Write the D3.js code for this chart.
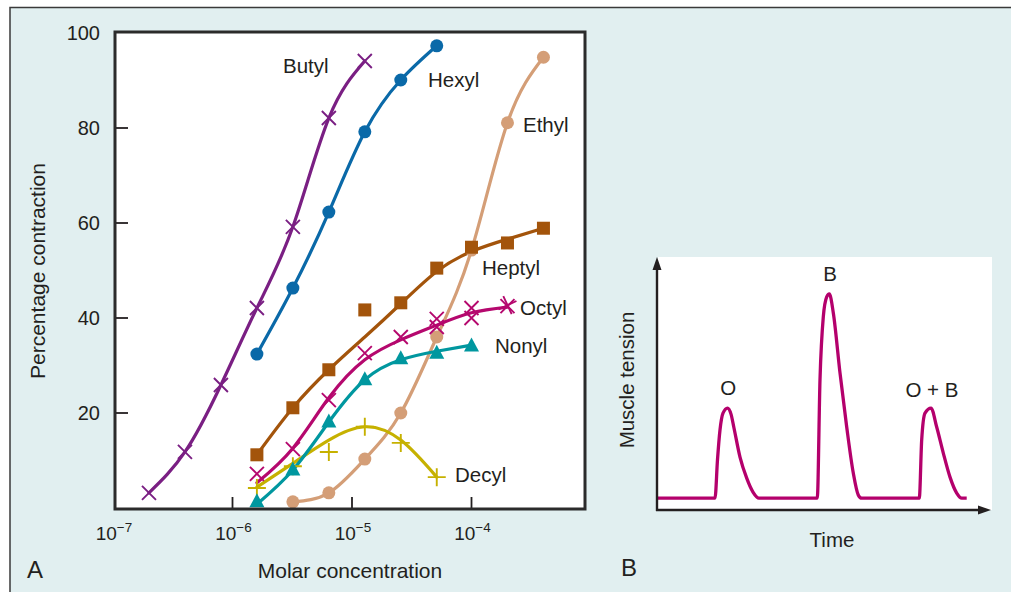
<!DOCTYPE html>
<html><head><meta charset="utf-8">
<script src="https://cdn.jsdelivr.net/npm/d3@7"></script>
<style>
html,body{margin:0;padding:0;background:#fff;}
svg{display:block;font-family:"Liberation Sans",Arial,Helvetica,sans-serif;}
</style></head>
<body>
<svg id="chart" width="1011" height="592"></svg>
<script>
// ---------- Panel A data ----------
const xTickValues = [1e-7, 1e-6, 1e-5, 1e-4];
const xTickExponents = ["−7", "−6", "−5", "−4"];
const yTickValues = [20, 40, 60, 80, 100];

const butylConc = [2e-7, 4e-7, 8e-7, 1.6e-6, 3.2e-6, 6.4e-6, 1.28e-5];
const butylPts  = [3.2, 11.8, 25.9, 42.1, 59.2, 82.1, 94.1];

const hexylConc = [1.6e-6, 3.2e-6, 6.4e-6, 1.28e-5, 2.56e-5, 5.12e-5];
const hexylPts  = [32.4, 46.3, 62.3, 79.2, 90.1, 97.3];

const ethylConc = [3.2e-6, 6.4e-6, 1.28e-5, 2.56e-5, 5.12e-5, 1e-4, 2e-4, 4e-4];
const ethylPts  = [1.3, 3.2, 10.3, 20.0, 36.0, 54.3, 81.1, 94.9];

const heptylConc  = [1.6e-6, 3.2e-6, 6.4e-6, 1.28e-5, 2.56e-5, 5.12e-5, 1e-4, 2e-4, 4e-4];
const heptylPts   = [11.2, 21.1, 29.1, 41.7, 43.2, 50.5, 54.9, 55.8, 58.9];
const heptylCurve = [11.2, 21.1, 29.1, 36.0, 43.0, 49.8, 54.0, 56.6, 58.9];

const octylConc  = [1.6e-6, 3.2e-6, 6.4e-6, 1.28e-5, 2.56e-5, 5.12e-5, 5.12e-5, 1e-4, 1e-4, 2e-4, 2e-4];
const octylPts   = [7.2, 12.4, 22.7, 32.6, 36.0, 39.8, 38.1, 42.1, 40.0, 42.5, 42.7];
const octylCurveConc = [1.6e-6, 3.2e-6, 6.4e-6, 1.28e-5, 2.56e-5, 5.12e-5, 1e-4, 2e-4];
const octylCurve = [5.3, 12.6, 23.2, 31.2, 35.4, 38.5, 41.1, 42.3];

const nonylConc  = [1.6e-6, 3.2e-6, 6.4e-6, 1.28e-5, 2.56e-5, 5.12e-5, 1e-4];
const nonylPts   = [1.3, 8.0, 18.1, 27.0, 31.4, 32.6, 34.1];
const nonylCurve = [0.8, 8.0, 18.1, 27.0, 31.2, 33.0, 34.3];

const decylConc  = [1.6e-6, 3.2e-6, 6.4e-6, 1.28e-5, 2.56e-5, 5.12e-5];
const decylPts   = [4.2, 8.8, 11.8, 17.1, 13.7, 6.5];
const decylCurve = [4.4, 9.4, 14.3, 17.1, 14.3, 6.5];

// ---------- Panel B data ----------
const traceTime = [0, 17.07, 17.81, 18.56, 19.46, 20.81, 21.86, 22.75, 24.55, 26.56, 28.44, 30.24,
  47.69, 48.50, 49.49, 50.51, 51.29, 52.49, 54.49, 56.50, 58.47, 59.97, 60.99,
  78.23, 78.95, 79.94, 81.74, 83.44, 85.42, 87.43, 89.43, 90.93, 92.43];
const traceTension = [4.7, 4.7, 19.8, 31.6, 38.3, 40.3, 37.9, 32.4, 20.9, 12.6, 7.1, 4.7,
  4.7, 51.4, 76.3, 84.2, 85.4, 77.9, 54.2, 32.8, 14.6, 5.9, 4.7,
  4.7, 27.7, 38.3, 40.3, 32.8, 22.5, 13.0, 6.7, 4.7, 4.7];
const peakLabels = ["O", "B", "O + B"];
const peakLabelTime = [21.0, 51.5, 82.0];
const peakLabelTension = [45.5, 90.5, 44.7];

// ---------- styles ----------
const TEXT = "#231f20";
const C = {butyl:"#7a1f83", hexyl:"#0a69a8", ethyl:"#d49e77", heptyl:"#a3540b",
           octyl:"#b5086e", nonyl:"#00979f", decyl:"#c6b100", trace:"#b4006c"};

const svg = d3.select("#chart");
// outer panel
svg.append("rect").attr("x",10).attr("y",7.5).attr("width",1010).attr("height",600)
  .attr("fill","#e1eff0").attr("stroke","#3a3a3a").attr("stroke-width",1.5);

// ---------- Panel A ----------
const x = d3.scaleLog().domain([1e-7, 1e-3]).range([113, 591]);
const y = d3.scaleLinear().domain([0, 100]).range([508, 33]);
const PL = 115, PR = 585, PT = 32, PB = 509;

svg.append("rect").attr("x",PL).attr("y",PT).attr("width",PR-PL).attr("height",PB-PT)
  .attr("fill","#fff");

// ticks
svg.append("g").selectAll("line").data(yTickValues.filter(v=>v<100)).join("line")
  .attr("x1",PL).attr("x2",PL+13).attr("y1",d=>y(d)).attr("y2",d=>y(d))
  .attr("stroke",TEXT).attr("stroke-width",1.8);
svg.append("g").selectAll("line").data(xTickValues.filter(v=>v>1e-7)).join("line")
  .attr("x1",d=>x(d)).attr("x2",d=>x(d)).attr("y1",PB).attr("y2",PB-12)
  .attr("stroke",TEXT).attr("stroke-width",1.8);

svg.append("g").selectAll("text").data(yTickValues).join("text")
  .attr("x",100).attr("y",d=>y(d)+7).attr("text-anchor","end")
  .attr("font-size",20).attr("fill",TEXT).text(d=>d);

const xl = svg.append("g").selectAll("text").data(xTickValues).join("text")
  .attr("x",d=>x(d)+1).attr("y",540).attr("text-anchor","middle")
  .attr("font-size",19).attr("fill",TEXT);
xl.append("tspan").text("10");
xl.append("tspan").attr("font-size",13.5).attr("dy",-8).text((d,i)=>xTickExponents[i]);

const line = d3.line().x(d=>x(d[0])).y(d=>y(d[1])).curve(d3.curveNatural);
const zip = (a,b)=>a.map((v,i)=>[v,b[i]]);

const series = [
  {name:"Butyl", color:C.butyl, conc:butylConc, pts:butylPts, cconc:butylConc, curve:butylPts, mk:"x"},
  {name:"Hexyl", color:C.hexyl, conc:hexylConc, pts:hexylPts, cconc:hexylConc, curve:hexylPts, mk:"circle"},
  {name:"Ethyl", color:C.ethyl, conc:ethylConc, pts:ethylPts, cconc:ethylConc, curve:ethylPts, mk:"circle"},
  {name:"Decyl", color:C.decyl, conc:decylConc, pts:decylPts, cconc:decylConc, curve:decylCurve, mk:"plus"},
  {name:"Nonyl", color:C.nonyl, conc:nonylConc, pts:nonylPts, cconc:nonylConc, curve:nonylCurve, mk:"tri"},
  {name:"Heptyl", color:C.heptyl, conc:heptylConc, pts:heptylPts, cconc:heptylConc, curve:heptylCurve, mk:"square"},
  {name:"Octyl", color:C.octyl, conc:octylConc, pts:octylPts, cconc:octylCurveConc, curve:octylCurve, mk:"x"}
];

const gData = svg.append("g");
series.forEach(s=>{
  gData.append("path").attr("d",line(zip(s.cconc,s.curve)))
    .attr("fill","none").attr("stroke",s.color).attr("stroke-width",3.2).attr("stroke-linecap","round");
});
series.forEach(s=>{
  const g = gData.append("g");
  const pts = zip(s.conc,s.pts);
  if (s.mk==="circle") {
    g.selectAll("circle").data(pts).join("circle").attr("cx",d=>x(d[0])).attr("cy",d=>y(d[1]))
      .attr("r",6.5).attr("fill",s.color);
  } else if (s.mk==="square") {
    g.selectAll("rect").data(pts).join("rect").attr("x",d=>x(d[0])-6.5).attr("y",d=>y(d[1])-6.5)
      .attr("width",13).attr("height",13).attr("fill",s.color);
  } else if (s.mk==="tri") {
    g.selectAll("path").data(pts).join("path")
      .attr("transform",d=>`translate(${x(d[0])},${y(d[1])})`)
      .attr("d","M0,-8.5L7.5,5.5L-7.5,5.5Z").attr("fill",s.color);
  } else if (s.mk==="x") {
    g.selectAll("path").data(pts).join("path")
      .attr("transform",(d,i)=>`translate(${x(d[0])},${y(d[1])}) rotate(${(s.name==="Octyl"&&i===pts.length-1)?20:0})`)
      .attr("d","M-7,-7L7,7M-7,7L7,-7").attr("stroke",s.color).attr("stroke-width",1.9).attr("fill","none");
  } else if (s.mk==="plus") {
    g.selectAll("path").data(pts).join("path")
      .attr("transform",d=>`translate(${x(d[0])},${y(d[1])})`)
      .attr("d","M-9,0L9,0M0,-9L0,9").attr("stroke",s.color).attr("stroke-width",1.9).attr("fill","none");
  }
});

// plot frame
svg.append("rect").attr("x",PL).attr("y",PT).attr("width",PR-PL).attr("height",PB-PT)
  .attr("fill","none").attr("stroke","#2b2b2b").attr("stroke-width",3);

// series labels
const seriesLabels = [
  ["Butyl",283,73],["Hexyl",428,87],["Ethyl",523,132],["Heptyl",482,275],
  ["Octyl",520,315],["Nonyl",495,353],["Decyl",455,482]];
svg.append("g").selectAll("text").data(seriesLabels).join("text")
  .attr("x",d=>d[1]).attr("y",d=>d[2]).attr("font-size",20.5).attr("fill",TEXT).text(d=>d[0]);

svg.append("text").attr("x",350).attr("y",578).attr("text-anchor","middle")
  .attr("font-size",21).attr("fill",TEXT).text("Molar concentration");
svg.append("text").attr("transform","translate(45,271) rotate(-90)").attr("text-anchor","middle")
  .attr("font-size",21).attr("fill",TEXT).text("Percentage contraction");
svg.append("text").attr("x",27).attr("y",578).attr("font-size",24).attr("fill",TEXT).text("A");

// ---------- Panel B ----------
const tx = d3.scaleLinear().domain([0,100]).range([658,992]);
const ty = d3.scaleLinear().domain([0,100]).range([510,257]);
svg.append("rect").attr("x",tx(0)).attr("y",ty(100)).attr("width",tx(100)-tx(0)).attr("height",ty(0)-ty(100))
  .attr("fill","#fff");
svg.append("path").attr("d",d3.line().x(d=>tx(d[0])).y(d=>ty(d[1])).curve(d3.curveMonotoneX)(zip(traceTime,traceTension)))
  .attr("fill","none").attr("stroke",C.trace).attr("stroke-width",3.3).attr("stroke-linejoin","round");
// axes with arrows
svg.append("line").attr("x1",657).attr("x2",657).attr("y1",511).attr("y2",266)
  .attr("stroke",TEXT).attr("stroke-width",2.4);
svg.append("path").attr("d","M657,257L652.5,270L661.5,270Z").attr("fill",TEXT);
svg.append("line").attr("x1",656).attr("x2",982).attr("y1",510).attr("y2",510)
  .attr("stroke",TEXT).attr("stroke-width",2.4);
svg.append("path").attr("d","M991,510L978,505.5L978,514.5Z").attr("fill",TEXT);

svg.append("g").selectAll("text").data(peakLabels).join("text")
  .attr("x",(d,i)=>tx(peakLabelTime[i])).attr("y",(d,i)=>ty(peakLabelTension[i]))
  .attr("text-anchor","middle").attr("font-size",20.5).attr("fill",TEXT).text(d=>d);
svg.append("text").attr("x",832).attr("y",547).attr("text-anchor","middle")
  .attr("font-size",20.5).attr("fill",TEXT).text("Time");
svg.append("text").attr("transform","translate(634,380) rotate(-90)").attr("text-anchor","middle")
  .attr("font-size",20.5).attr("fill",TEXT).text("Muscle tension");
svg.append("text").attr("x",621).attr("y",576).attr("font-size",24).attr("fill",TEXT).text("B");
</script>
</body></html>
